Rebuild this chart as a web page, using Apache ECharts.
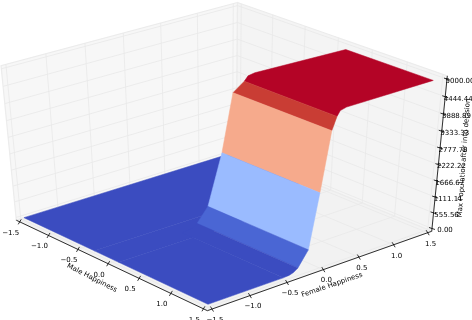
<!DOCTYPE html>
<html><head><meta charset="utf-8">
<style>html,body{margin:0;padding:0;background:#fff}#c{width:472px;height:320px}</style>
<script src="https://cdn.jsdelivr.net/npm/echarts@6/dist/echarts.min.js"></script>
</head><body><div id="c"></div>
<script>
const maleTicks=[-1.5,-1.0,-0.5,0.0,0.5,1.0,1.5];
const femaleTicks=[-1.5,-1.0,-0.5,0.0,0.5,1.0,1.5];
const zTicks=[0,555.56,1111.11,1666.67,2222.22,2777.78,3333.33,3888.89,4444.44,5000];
const femaleProfile=[-0.5,-0.42,-0.36,-0.3,-0.165,-0.04,0.08,0.14,0.18,0.26,1.43];
const wallHeights=[0,15,60,170,680,2500,4400,4800,4950,5000,5000];
const wallMaleStart=[-0.08,-0.08,-0.07,-0.07,-0.05,0.03,0.06,0.16,0.17,0.18,0.25];
const wallMaleEnd=1.5;
const floorMale=[-1.5,-0.3,0.1,1.5];
const floorFemaleEnd=[1.5,0.8,-0.5];
const zBreaks=[300,1100,2800,4500,4800];
const zColors=['#3b4cc0','#4a66d4','#9abbff','#f6aa8c','#c93d34','#b40426'];
const xLim=[-1.56,1.56],yLim=[-1.56,1.56],zLim=[-100,5100];
const cam={el:35,az:-41,d:8,cx:223,cy:151,sx:305,sy:189};

const R=Math.PI/180,ce=Math.cos(cam.el*R),se=Math.sin(cam.el*R),ca=Math.cos(cam.az*R),sa=Math.sin(cam.az*R);
function proj(x,y,z){
  const u=(x-xLim[0])/(xLim[1]-xLim[0])-.5,v=(y-yLim[0])/(yLim[1]-yLim[0])-.5,w=(z-zLim[0])/(zLim[1]-zLim[0])-.5;
  const xc=-sa*u+ca*v, yc=-se*ca*u-se*sa*v+ce*w, dp=ce*ca*u+ce*sa*v+se*w;
  const f=cam.d/(cam.d-dp);
  return [cam.cx+cam.sx*xc*f, cam.cy-cam.sy*yc*f];
}
function colorOf(z){let i=0;while(i<zBreaks.length&&z>=zBreaks[i])i++;return zColors[i];}
const items=[];
const pane=(pts,fill)=>items.push({type:'polygon',pts,fill,stroke:'#ececec',lw:1.2});
const line=(a,b,stroke,lw)=>items.push({type:'line',a,b,stroke,lw});
const [x0,x1]=xLim,[y0,y1]=yLim,[z0,z1]=zLim;
pane([[x0,y0,z0],[x0,y1,z0],[x0,y1,z1],[x0,y0,z1]],'#f7f7f7');
pane([[x0,y1,z0],[x1,y1,z0],[x1,y1,z1],[x0,y1,z1]],'#f4f4f4');
pane([[x0,y0,z0],[x1,y0,z0],[x1,y1,z0],[x0,y1,z0]],'#f2f2f2');
const gc='#e9e9e9';
maleTicks.forEach(t=>{line([t,y0,z0],[t,y1,z0],gc,.8);line([t,y1,z0],[t,y1,z1],gc,.8);});
femaleTicks.forEach(t=>{line([x0,t,z0],[x1,t,z0],gc,.8);line([x0,t,z0],[x0,t,z1],gc,.8);});
zTicks.forEach(t=>{line([x0,y0,t],[x0,y1,t],gc,.8);line([x0,y1,t],[x1,y1,t],gc,.8);});
floorMale.slice(0,-1).forEach((m,i)=>{
  const e=floorFemaleEnd[i];
  items.push({type:'polygon',pts:[[m,-1.5,0],[floorMale[i+1],-1.5,0],[floorMale[i+1],e,0],[m,e,0]],fill:colorOf(0),stroke:colorOf(0),lw:.5});
});
// wall + plateau, back to front; neighbouring cells of one colour form one polygon
const runs=[];
for(let j=0;j<femaleProfile.length-1;j++){
  const c=colorOf((wallHeights[j]+wallHeights[j+1])/2);
  if(runs.length&&runs[runs.length-1].c===c)runs[runs.length-1].end=j+1;
  else runs.push({c,start:j,end:j+1});
}
runs.reverse().forEach(r=>{
  const left=[],right=[];
  for(let j=r.start;j<=r.end;j++){
    left.push([wallMaleStart[j],femaleProfile[j],wallHeights[j]]);
    right.push([wallMaleEnd,femaleProfile[j],wallHeights[j]]);
  }
  items.push({type:'polygon',pts:left.concat(right.reverse()),fill:r.c,stroke:r.c,lw:.5});
});
line([x0,y0,z0],[x1,y0,z0],'#000',.8);
line([x1,y0,z0],[x1,y1,z0],'#000',.8);
line([x1,y1,z0],[x1,y1,z1],'#000',.8);
const fmt1=t=>t.toFixed(1).replace('-','\u2212');
maleTicks.forEach(t=>{const p=[t,y0,z0];items.push({type:'tick',p,dx:-1.5,dy:2.5});items.push({type:'label',p,text:fmt1(t),dx:-9,dy:11});});
femaleTicks.forEach(t=>{const p=[x1,t,z0];items.push({type:'tick',p,dx:1.5,dy:2.5});items.push({type:'label',p,text:fmt1(t),dx:3,dy:11});});
zTicks.forEach(t=>{const p=[x1,y1,t];items.push({type:'tick',p,dx:3,dy:1});items.push({type:'label',p,text:t.toFixed(2),dx:13,dy:2});});
const titles=[
 {text:'Male Happiness',x:92,y:278,rot:-27},
 {text:'Female Happiness',x:332,y:285,rot:19},
 {text:'Max Population after into decision',x:464,y:158,rot:86}];
titles.forEach(t=>items.push(Object.assign({type:'title'},t)));

function renderItem(params){
  const it=items[params.dataIndex];
  if(it.type==='polygon')return{type:'polygon',shape:{points:it.pts.map(p=>proj(...p))},style:{fill:it.fill,stroke:it.stroke,lineWidth:it.lw}};
  if(it.type==='line'){const a=proj(...it.a),b=proj(...it.b);return{type:'line',shape:{x1:a[0],y1:a[1],x2:b[0],y2:b[1]},style:{stroke:it.stroke,lineWidth:it.lw}};}
  if(it.type==='tick'){const a=proj(...it.p);return{type:'line',shape:{x1:a[0]-it.dx,y1:a[1]-it.dy,x2:a[0]+it.dx,y2:a[1]+it.dy},style:{stroke:'#000',lineWidth:.8}};}
  if(it.type==='label'){const a=proj(...it.p);return{type:'text',x:a[0]+it.dx,y:a[1]+it.dy,style:{text:it.text,fill:'#000',font:'7px "DejaVu Sans"',align:'center',verticalAlign:'middle'}};}
  return{type:'text',x:it.x,y:it.y,rotation:it.rot*R,style:{text:it.text,fill:'#000',font:'7px "DejaVu Sans"',align:'center',verticalAlign:'middle'}};
}
const chart=echarts.init(document.getElementById('c'),null,{renderer:'canvas'});
chart.setOption({animation:false,xAxis:{show:false},yAxis:{show:false},series:[{type:'custom',coordinateSystem:'none',silent:true,clip:false,data:items.map((_,i)=>i),renderItem}]});
</script></body></html>
